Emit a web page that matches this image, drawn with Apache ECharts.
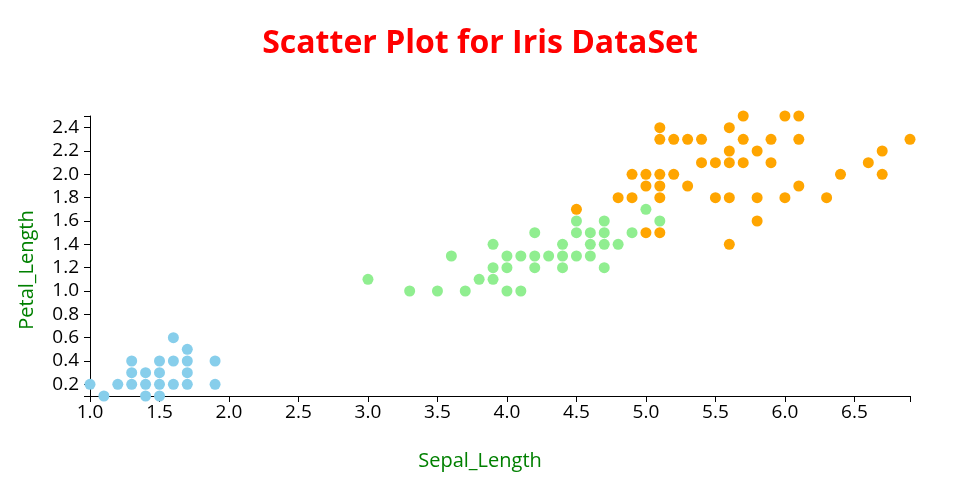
<!DOCTYPE html>
<html>
<head>
<meta charset="utf-8">
<script src="https://cdn.jsdelivr.net/npm/echarts@6/dist/echarts.min.js"></script>
<style>html,body{margin:0;padding:0;background:#fff}#chart{width:960px;height:500px}</style>
</head>
<body>
<div id="chart"></div>
<script>
const titleText = 'Scatter Plot for Iris DataSet';
const xName = 'Sepal_Length';
const yName = 'Petal_Length';

const xTickLabels = [1.0, 1.5, 2.0, 2.5, 3.0, 3.5, 4.0, 4.5, 5.0, 5.5, 6.0, 6.5];
const xTicks = [1.0, 1.5, 2.0, 2.5, 3.0, 3.5, 4.0, 4.5, 5.0, 5.5, 6.0, 6.5, 6.9];
const yTickLabels = [0.2, 0.4, 0.6, 0.8, 1.0, 1.2, 1.4, 1.6, 1.8, 2.0, 2.2, 2.4];
const yTicks = [0.1, 0.2, 0.4, 0.6, 0.8, 1.0, 1.2, 1.4, 1.6, 1.8, 2.0, 2.2, 2.4, 2.5];

const setosa = [
  [1.1,0.1],[1.4,0.1],[1.5,0.1],
  [1.0,0.2],[1.2,0.2],[1.3,0.2],[1.4,0.2],[1.5,0.2],[1.6,0.2],[1.7,0.2],[1.9,0.2],
  [1.3,0.3],[1.4,0.3],[1.5,0.3],[1.7,0.3],
  [1.3,0.4],[1.5,0.4],[1.6,0.4],[1.7,0.4],[1.9,0.4],
  [1.7,0.5],[1.6,0.6]
];
const versicolor = [
  [3.0,1.1],[3.3,1.0],[3.5,1.0],[3.7,1.0],[4.0,1.0],[4.1,1.0],
  [3.6,1.3],[3.8,1.1],[3.9,1.1],[3.9,1.2],[3.9,1.4],
  [4.0,1.3],[4.0,1.2],[4.1,1.3],
  [4.2,1.5],[4.2,1.3],[4.2,1.2],[4.3,1.3],
  [4.4,1.4],[4.4,1.3],[4.4,1.2],
  [4.5,1.6],[4.5,1.5],[4.5,1.3],
  [4.6,1.5],[4.6,1.4],[4.6,1.3],
  [4.7,1.6],[4.7,1.5],[4.7,1.4],[4.7,1.2],
  [4.8,1.4],[4.9,1.5],[5.0,1.7],[5.1,1.6]
];
const virginica = [
  [4.5,1.7],[4.8,1.8],[4.9,2.0],[4.9,1.8],
  [5.0,2.0],[5.0,1.9],[5.0,1.5],
  [5.1,2.4],[5.1,2.3],[5.1,2.0],[5.1,1.9],[5.1,1.8],[5.1,1.5],
  [5.2,2.3],[5.2,2.0],[5.3,2.3],[5.3,1.9],[5.4,2.3],[5.4,2.1],
  [5.5,2.1],[5.5,1.8],
  [5.6,2.4],[5.6,2.2],[5.6,2.1],[5.6,1.8],[5.6,1.4],
  [5.7,2.5],[5.7,2.3],[5.7,2.1],
  [5.8,2.2],[5.8,1.8],[5.8,1.6],
  [5.9,2.3],[5.9,2.1],[6.0,2.5],[6.0,1.8],
  [6.1,2.5],[6.1,2.3],[6.1,1.9],
  [6.3,1.8],[6.4,2.0],[6.6,2.1],[6.7,2.2],[6.7,2.0],[6.9,2.3]
];
const colors = ['#87CEEB', '#90EE90', '#FFA500'];

const font = '"Open Sans", sans-serif';
const chart = echarts.init(document.getElementById('chart'), null, {renderer: 'canvas'});
function axisOpts(ticks, labels, margin) {
  return {
    axisLine: {show: true, lineStyle: {color: '#000', width: 1}},
    axisTick: {show: true, length: 6, lineStyle: {color: '#000'}, customValues: ticks},
    splitLine: {show: false},
    axisLabel: {color: '#000', fontSize: 19, fontFamily: font, margin: margin,
      customValues: labels, formatter: v => v.toFixed(1)}
  };
}
chart.setOption({
  animation: false,
  title: {text: titleText, left: 'center', top: 23,
    textStyle: {color: 'red', fontSize: 32, fontWeight: 'bold', fontFamily: font}},
  grid: {left: 90, right: 50, top: 116, bottom: 104, containLabel: false},
  xAxis: Object.assign(axisOpts(xTicks, xTickLabels, 7), {
    type: 'value', min: 1.0, max: 6.9,
    name: xName, nameLocation: 'middle', nameGap: 55,
    nameTextStyle: {color: 'green', fontSize: 20, fontFamily: font, padding: [0, 40, 0, 0]}
  }),
  yAxis: Object.assign(axisOpts(yTicks, yTickLabels, 11), {
    type: 'value', min: 0.1, max: 2.5,
    name: yName, nameLocation: 'middle', nameGap: 53,
    nameTextStyle: {color: 'green', fontSize: 20, fontFamily: font, padding: [0, 28, 0, 0]}
  }),
  series: [setosa, versicolor, virginica].map((d, i) => ({
    type: 'scatter', data: d, symbolSize: 11,
    itemStyle: {color: colors[i], opacity: 1}
  }))
});
</script>
</body>
</html>
